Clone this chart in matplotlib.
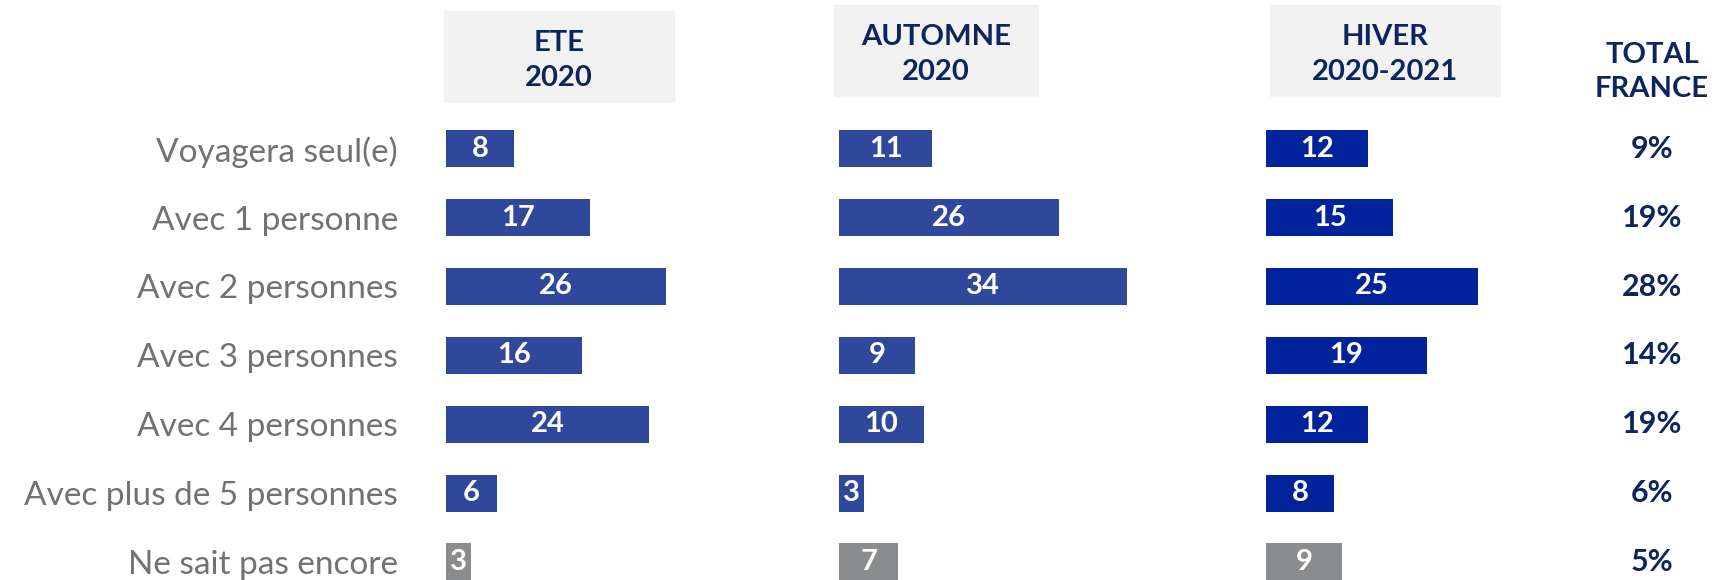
import matplotlib
matplotlib.use("Agg")
import matplotlib.pyplot as plt
from matplotlib.patches import Rectangle

# data
categories = ["Voyagera seul(e)", "Avec 1 personne", "Avec 2 personnes", "Avec 3 personnes",
              "Avec 4 personnes", "Avec plus de 5 personnes", "Ne sait pas encore"]
ete = [8, 17, 26, 16, 24, 6, 3]
automne = [11, 26, 34, 9, 10, 3, 7]
hiver = [12, 15, 25, 19, 12, 8, 9]
total_france = ["9%", "19%", "28%", "14%", "19%", "6%", "5%"]
headers = ["ETE\n2020", "AUTOMNE\n2020", "HIVER\n2020-2021"]

NAVY_TXT = "#0d255e"
BLUE = "#30489c"
BLUE_DARK = "#00239c"
GREY_BAR = "#8a8c8e"
LABEL_GREY = "#727272"
BOX = "#f2f2f2"

W, H = 1714, 580
fig = plt.figure(figsize=(W / 100, H / 100), dpi=100)

scale = 8.47          # px per unit
xmax = 36
row0, step = 148.7, 68.9
y_top = -0.5
y_bot = (H - row0) / step


def add_col(left_px):
    top_px = row0 + y_top * step
    ax = fig.add_axes([left_px / W, 0, xmax * scale / W, 1 - top_px / H])
    ax.set_xlim(0, xmax)
    ax.set_ylim(y_bot, y_top)
    for s in ax.spines.values():
        s.set_visible(False)
    ax.set_xticks([])
    ax.tick_params(left=False)
    ax.patch.set_alpha(0)
    return ax


series = [ete, automne, hiver]
lefts = [446, 839, 1266]
bar_cols = [BLUE, BLUE, BLUE_DARK]
ypos = list(range(len(categories)))

for i, (vals, left, col) in enumerate(zip(series, lefts, bar_cols)):
    ax = add_col(left)
    colors = [col] * (len(vals) - 1) + [GREY_BAR]   # "ne sait pas" en gris
    ax.barh(ypos, vals, height=0.54, color=colors)
    for y, v in zip(ypos, vals):
        ax.text(v / 2, y, str(v), ha="center", va="center", color="white",
                fontsize=21, fontweight="bold", family="Lato")
    if i == 0:
        ax.set_yticks(ypos)
        ax.set_yticklabels(categories, fontsize=24, color=LABEL_GREY, family="Lato")
        ax.tick_params(axis="y", pad=31)
    else:
        ax.set_yticks([])

# total column
axt = add_col(1560)
axt.set_yticks([])
axt.set_xlim(0, 1)
for y, t in zip(ypos, total_france):
    axt.text((1652 - 1560) / (xmax * scale), y, t, ha="center", va="center",
             color=NAVY_TXT, fontsize=22, fontweight="bold", family="Lato")

# header boxes
boxes = [(444, 11, 674, 102), (834, 5, 1038, 96), (1270, 5, 1500, 96)]
for (x0, y0, x1, y1), txt in zip(boxes, headers):
    fig.patches.append(Rectangle((x0 / W, 1 - y1 / H), (x1 - x0) / W, (y1 - y0) / H,
                                 transform=fig.transFigure, color=BOX, zorder=0))
    fig.text((x0 + x1) / 2 / W, 1 - ((y0 + y1) / 2 + 4) / H, txt, ha="center", va="center",
             color=NAVY_TXT, fontsize=21, fontweight="bold", family="Lato",
             linespacing=1.45)

fig.text(1652 / W, 1 - 72 / H, "TOTAL\nFRANCE", ha="center", va="center",
         color=NAVY_TXT, fontsize=21, fontweight="bold", family="Lato", linespacing=1.35)

fig.savefig("out.png", dpi=100)
